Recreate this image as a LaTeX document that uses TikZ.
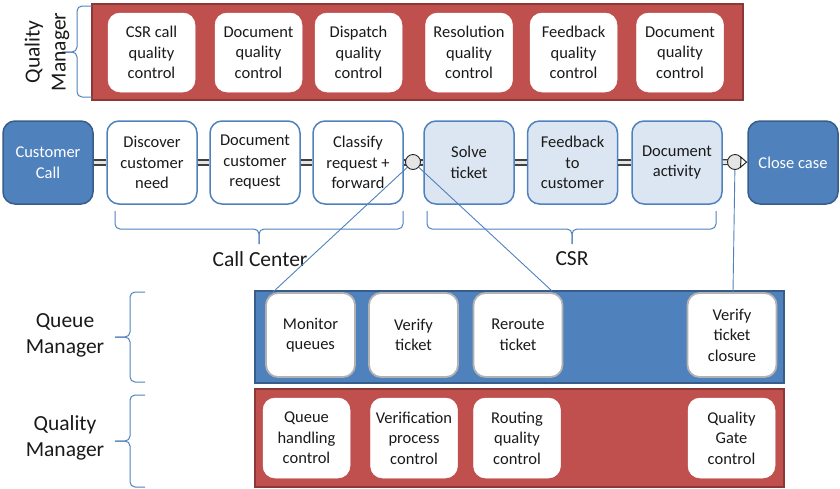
\documentclass[tikz,border=0pt]{standalone}
\usepackage{fontspec}
\setmainfont{Carlito}
\usetikzlibrary{arrows.meta}
\definecolor{qred}{HTML}{C0504D}
\definecolor{qredd}{HTML}{8C3836}
\definecolor{qblue}{HTML}{4F81BD}
\definecolor{qblued}{HTML}{385D8A}
\definecolor{qlight}{HTML}{DCE6F2}
\definecolor{qtext}{HTML}{1A1A1A}
\tikzset{
  bandred/.style={fill=qred, draw=qredd, line width=1.5pt},
  bandblue/.style={fill=qblue, draw=qblued, line width=1.5pt},
  basebox/.style={rounded corners=12pt, align=center, inner sep=2pt, text=qtext,
    font=\fontsize{16.5}{20.5}\selectfont},
  redbox/.style={basebox, fill=white, draw=white, line width=0.5pt, minimum width=87pt, minimum height=79pt},
  ccbox/.style={basebox, fill=white, draw=qblue, line width=1.5pt, minimum width=90pt, minimum height=83pt},
  csrbox/.style={basebox, fill=qlight, draw=qblue, line width=1.5pt, minimum width=90pt, minimum height=83pt},
  endbox/.style={basebox, fill=qblue, draw=qblued, line width=1.5pt, text=white, minimum width=90pt, minimum height=83pt},
  qmbox/.style={basebox, fill=white, draw=gray!60, line width=1.8pt, minimum width=89pt, minimum height=84pt},
  conn/.style={draw=black!75, line width=1.3pt, double=gray!20, double distance=3.5pt},
  gate/.style={circle, draw=black!85, line width=0.9pt, fill=gray!20, minimum size=15pt, inner sep=0pt},
  thin/.style={draw=qblue, line width=0.9pt},
  brace/.style={draw=qblue, line width=1pt, rounded corners=5pt},
  biglabel/.style={align=center, text=qtext, font=\fontsize{21.5}{26}\selectfont},
}
\begin{document}
\begin{tikzpicture}[x=1pt,y=-1pt]
\useasboundingbox (0,0) rectangle (840,488);
% bands
\path[bandred] (92,4) rectangle (743,100);
\path[bandblue] (255,291) rectangle (784,383);
\path[bandred] (255,389) rectangle (784,487);
% top quality manager boxes
\node[redbox] (q1) at (151.5,52.5) {CSR call\\quality\\control};
\node[redbox] (q2) at (258.5,52.5) {Document\\quality\\control};
\node[redbox] (q3) at (358.5,52.5) {Dispatch\\quality\\control};
\node[redbox] (q4) at (469,52.5) {Resolution\\quality\\control};
\node[redbox] (q5) at (573.5,52.5) {Feedback\\quality\\control};
\node[redbox] (q6) at (680,52.5) {Document\\quality\\control};
% process row
\node[endbox] (cc) at (48,162.5) {Customer\\Call};
\node[ccbox] (p1) at (152,162.5) {Discover\\customer\\need};
\node[ccbox] (p2) at (255,162.5) {Document\\customer\\request};
\node[ccbox] (p3) at (358,162.5) {Classify\\request +\\forward};
\node[csrbox] (p4) at (469,162.5) {Solve\\ticket};
\node[csrbox] (p5) at (572.5,162.5) {Feedback\\to\\customer};
\node[csrbox] (p6) at (677,162.5) {Document\\activity};
\node[endbox] (cl) at (793,162.5) {Close case};
\coordinate (g2c) at (735,162);
% connectors
\draw[conn] (cc) -- (p1);
\draw[conn] (p1) -- (p2);
\draw[conn] (p2) -- (p3);
\draw[conn] (p3) -- (p4);
\draw[conn] (p4) -- (p5);
\draw[conn] (p5) -- (p6);
\draw[conn] (p6) -- (g2c);
\node[gate] (g1) at (413,162) {};
\node[gate] (g2) at (g2c) {};
\draw[draw=black!85, line width=1pt, -{Triangle[open, length=7pt, width=12pt, fill=white]}] (g2) -- (cl);
% queue manager boxes
\node[qmbox] (m1) at (310.5,335) {Monitor\\queues};
\node[qmbox] (m2) at (413.5,335) {Verify\\ticket};
\node[qmbox] (m3) at (518,335) {Reroute\\ticket};
\node[qmbox] (m4) at (732,335) {Verify\\ticket\\closure};
% bottom quality boxes
\node[redbox, minimum height=80pt] (b1) at (306.5,438) {Queue\\handling\\control};
\node[redbox, minimum height=80pt] (b2) at (414,438) {Verification\\process\\control};
\node[redbox, minimum height=80pt] (b3) at (517,438) {Routing\\quality\\control};
\node[redbox, minimum height=80pt] (b4) at (731.5,438) {Quality\\Gate\\control};
% braces
\draw[brace] (92,6) -- (77,6) -- (77,52) -- (62,52);
\draw[brace] (92,97) -- (77,97) -- (77,52) -- (62,52);
\draw[brace] (145,292) -- (130,292) -- (130,337) -- (115,337);
\draw[brace] (145,382) -- (130,382) -- (130,337) -- (115,337);
\draw[brace] (145,395) -- (130,395) -- (130,441) -- (115,441);
\draw[brace] (145,487) -- (130,487) -- (130,441) -- (115,441);
\draw[brace] (115,211) -- (115,229) -- (259,229) -- (259,244);
\draw[brace] (403,211) -- (403,229) -- (259,229) -- (259,244);
\draw[brace] (427,211) -- (427,229) -- (572,229) -- (572,244);
\draw[brace] (716,211) -- (716,229) -- (572,229) -- (572,244);
% labels
\node[biglabel, rotate=90] (lq1) at (47,52) {Quality\\Manager};
\node[biglabel] (lqm) at (65,335) {Queue\\Manager};
\node[biglabel] (lq2) at (65,438) {Quality\\Manager};
\node[biglabel] (lcc) at (260,259) {Call Center};
\node[biglabel] (lcsr) at (572,259) {CSR};
% thin links
\coordinate (e1) at (273,292);
\coordinate (e2) at (552,291);
\coordinate (e3) at (733,292);
\draw[thin] (g1) -- (e1);
\draw[thin] (g1) -- (e2);
\draw[thin] (g2) -- (e3);
\end{tikzpicture}
\end{document}
